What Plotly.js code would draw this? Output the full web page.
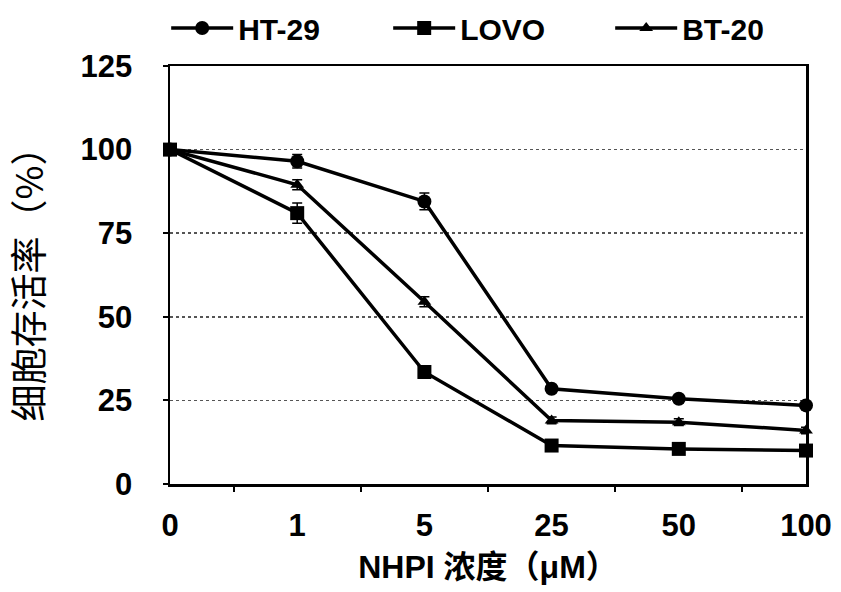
<!DOCTYPE html>
<html>
<head>
<meta charset="utf-8">
<script src="https://cdn.plot.ly/plotly-3.0.1.min.js"></script>
<style>html,body{margin:0;padding:0;background:#fff;}#chart{width:841px;height:592px;}</style>
</head>
<body>
<div id="chart"></div>
<script>
const concentrations = ["0", "1", "5", "25", "50", "100"];
const seriesNames = ["HT-29", "LOVO", "BT-20"];
const ht29 = [100, 96.5, 84.5, 28.5, 25.5, 23.5];
const lovo = [100, 81, 33.5, 11.5, 10.5, 10];
const bt20 = [100, 89.5, 54.5, 19, 18.5, 16];
const ht29Err = [0, 2, 2.5, 1, 1, 1];
const lovoErr = [0, 3, 1.5, 1, 1, 1];
const bt20Err = [0, 1.5, 1.5, 1, 1, 1];
const yTicks = [0, 25, 50, 75, 100, 125];

const symbols = ["circle", "square", "triangle-up"];
const values = [ht29, lovo, bt20];
const errs = [ht29Err, lovoErr, bt20Err];

const traces = seriesNames.map((name, i) => ({
  type: "scatter",
  mode: "lines+markers",
  name: name,
  x: concentrations,
  y: values[i],
  cliponaxis: false,
  line: {color: "#000", width: 3.5},
  marker: {symbol: symbols[i], size: i === 2 ? 12 : 14, color: "#000"},
  error_y: {type: "data", array: errs[i], visible: true, color: "#000", thickness: 1.5, width: 5}
}));

const fontFam = "Liberation Sans, Arial, sans-serif";
const layout = {
  width: 841, height: 592,
  margin: {l: 170, r: 35, t: 66, b: 108, autoexpand: false},
  paper_bgcolor: "#fff", plot_bgcolor: "#fff",
  showlegend: true,
  legend: {
    orientation: "h", x: -0.006, xanchor: "left", y: 1.091, yanchor: "middle",
    entrywidth: 145, entrywidthmode: "pixels",
    itemwidth: 62,
    font: {family: fontFam, size: 30, color: "#000", weight: "bold"}
  },
  xaxis: {
    type: "category",
    range: [0, 5],
    showline: true, linecolor: "#000", linewidth: 2.5, mirror: true,
    ticks: "outside", ticklen: 5, tickwidth: 2, tickcolor: "#000",
    tickson: "boundaries",
    ticklabelstandoff: 12,
    showgrid: false, zeroline: false,
    tickfont: {family: fontFam, size: 31, color: "#000", weight: "bold"},
    title: {text: "NHPI 浓度（μM）", standoff: 14,
      font: {family: "Liberation Sans, Noto Sans CJK SC, sans-serif", size: 32, color: "#000", weight: "bold"}}
  },
  yaxis: {
    range: [0, 125],
    tickvals: yTicks,
    showline: true, linecolor: "#000", linewidth: 2.5, mirror: true,
    ticks: "outside", ticklen: 5, tickwidth: 2, tickcolor: "#000",
    ticklabelstandoff: 24,
    showgrid: true, gridcolor: "#555", griddash: "dot", gridwidth: 1.5,
    zeroline: false,
    tickfont: {family: fontFam, size: 31, color: "#000", weight: "bold"},
    title: {text: "细胞存活率（%）", standoff: 26,
      font: {family: "Noto Sans CJK SC, sans-serif", size: 37, color: "#000"}}
  }
};

Plotly.newPlot("chart", traces, layout, {displayModeBar: false, staticPlot: true});
</script>
</body>
</html>
